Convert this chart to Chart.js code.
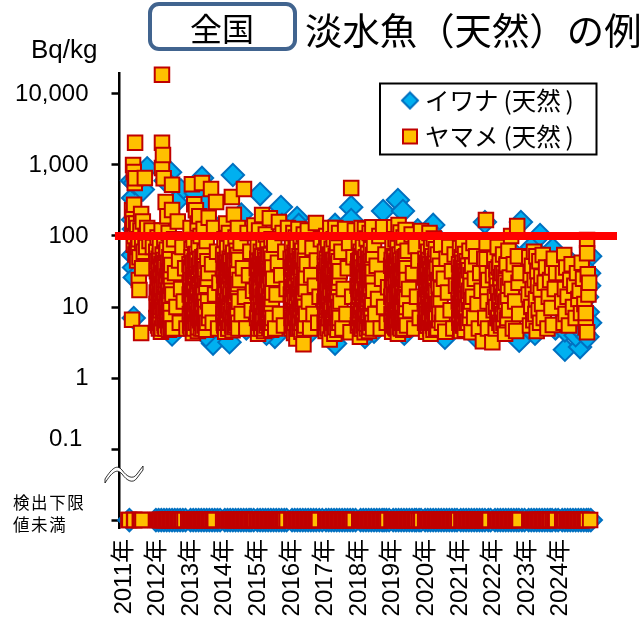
<!DOCTYPE html>
<html lang="ja"><head><meta charset="utf-8">
<script src="https://cdn.jsdelivr.net/npm/chart.js@4/dist/chart.umd.min.js"></script>
<style>
html,body{margin:0;padding:0;background:#fff}
#wrap{position:relative;width:644px;height:624px;overflow:hidden}
#wrap canvas{position:absolute;left:0;top:0}
.t{position:absolute;white-space:nowrap;color:#000;font-family:"Liberation Sans","Noto Sans CJK JP",sans-serif;line-height:1}
.j{font-family:"Noto Sans CJK JP",sans-serif}
#box{position:absolute;left:148px;top:2px;width:141px;height:41px;border:4px solid #41648f;border-radius:11px;background:#fff}
svg{position:absolute;left:0;top:0}
</style></head><body>
<div id="wrap">
<canvas id="c" width="644" height="624"></canvas>
<div id="box"></div>
<div class="t j" style="left:190px;top:11px;font-size:32px">全国</div>
<div class="t j" style="left:305px;top:11px;font-size:37.4px">淡水魚（天然）の例</div>
<div class="t" style="left:31px;top:36px;font-size:26px">Bq/kg</div>
<div class="t" style="left:49px;top:426px;font-size:24px">0.1</div>
<div class="t j" style="left:13px;top:494px;font-size:16.5px;letter-spacing:1.6px">検出下限</div>
<div class="t j" style="left:13px;top:516px;font-size:16.5px;letter-spacing:1.6px">値未満</div>
<svg width="644" height="624"><path d="M105 479C112 468 117 464 122 470C127 477 133 480 137 474L143 466L143 470L137 478C133 484 127 481 122 474C117 468 112 472 105 483Z" fill="#fff" stroke="#000" stroke-width="0.8"/></svg>
</div>
<script>
const yearTicks=[2011,2012,2013,2014,2015,2016,2017,2018,2019,2020,2021,2022,2023,2024];
const yTicks=[0.01,0.1,1,10,100,1000,10000];
const yLabels={10000:"10,000",1000:"1,000",100:"100",10:"10",1:"1"};
const limitValue=100;
const ndValue=0.01;
const limitLine=[[2010.79,limitValue],[2025.73,limitValue]];

const iwanaCloud=[[2011.33,343],[2011.30,600],[2011.33,170],[2011.35,125],[2011.38,557],[2011.33,54],[2011.36,36],[2011.38,26],[2011.35,7],[2011.75,900],[2011.62,450],[2012.43,790],[2012.30,600],[2012.75,440],[2012.60,300],[2012.49,4.1],[2012.8,20],
[2013.38,657],[2013.2,400],[2013.71,3.06],[2013.55,300],[2013.8,130],[2013.5,4],[2014.30,723],[2014.55,200],[2014.2,3.2],[2014.7,5],[2015.11,390],[2015.73,256],[2015.76,143],[2015.55,3.8],[2015.3,4.2],[2016.21,179],[2016.26,143],[2016.6,90],[2016.5,4],[2017.34,143],[2017.34,3.06],[2017.82,255],[2017.82,168],[2017.6,5],[2018.23,3.8],[2018.77,225],[2018.5,4.5],[2019.21,321],[2019.36,225],[2019.8,120],[2019.4,4.2],[2020.26,143],[2020.37,93],[2020.61,3.7],[2020.5,60],[2020.8,45],[2021.27,70],[2021.80,157],[2021.5,4],[2022.25,50],[2022.31,64],[2022.82,3.35],[2022.87,157],[2022.6,60],[2022.4,6],[2023.2,70],[2023.29,4.2],[2023.44,103],[2023.82,65],[2023.7,30],[2023.9,5],[2024.18,2.5],[2024.18,4.7],[2024.63,2.73],[2024.4,40],[2024.5,4],[2024.75,4.3],[2024.85,3.8],[2024.84,13.8],[2024.86,8.5],[2024.93,52],[2024.93,6],[2024.9,20],[2024.9,30]];

const iwanaND2011=[.22];
const iwanaND2012=[.01,.09,.17,.25,.33,.41,.49,.57,.65,.73,.81,.89];
const iwanaND2013=[.04,.12,.20,.28,.36,.44,.52,.60,.68,.76,.84,.92];
const iwanaND2014=[.06,.14,.22,.30,.38,.46,.54,.62,.70,.78,.84,.92];
const iwanaND2015=[.03,.11,.19,.27,.35,.43,.51,.59,.67,.75,.83,.90];
const iwanaND2016=[.06,.14,.22,.30,.38,.46,.54,.62,.70,.78,.87,.96];
const iwanaND2017=[.07,.15,.23,.31,.39,.47,.55,.63,.71,.79,.87,.95];
const iwanaND2018=[.10,.18,.26,.34,.42,.50,.58,.66,.74,.80,.87,.95];
const iwanaND2019=[.07,.15,.23,.31,.39,.47,.55,.63,.71,.76,.84,.90];
const iwanaND2020=[.02,.10,.18,.26,.34,.42,.50,.58,.66,.74,.82,.90,.97];
const iwanaND2021=[.08,.16,.24,.32,.40,.48,.56,.64,.72,.80,.90,.97];
const iwanaND2022=[.10,.18,.26,.34,.42,.50,.58,.66,.74,.81,.90,.98];
const iwanaND2023=[.10,.18,.26,.34,.42,.50,.58,.66,.74,.80,.90,.98];
const iwanaND2024=[.10,.18,.26,.34,.42,.50,.58,.66,.74,.82,.88,.95];

const yamameND2011=[.19,.22,.36,.37,.53,.57,.61];
const yamameND2012=[.01,.05,.09,.13,.17,.21,.25,.29,.33,.37,.41,.45,.49,.53,.57,.61,.65,.69,.73,.77,.81,.86,.97];
const yamameND2013=[.01,.05,.09,.13,.17,.21,.25,.29,.33,.37,.41,.45,.49,.53,.57,.61,.65,.69,.73,.76];
const yamameND2014=[.01,.05,.09,.13,.17,.21,.25,.29,.33,.37,.41,.45,.49,.53,.57,.61,.65,.69,.73,.77,.81,.85,.89,.93,.96];
const yamameND2015=[.01,.05,.09,.13,.17,.21,.25,.29,.33,.37,.41,.45,.49,.53,.57,.61,.65,.69,.73,.77,.81,.85,.90];
const yamameND2016=[.04,.08,.12,.16,.20,.24,.28,.32,.36,.40,.44,.48,.52,.56,.60,.64,.68,.72,.76,.80,.83,.86];
const yamameND2017=[.05,.09,.13,.17,.21,.25,.29,.33,.37,.41,.45,.49,.53,.57,.61,.65,.69,.73,.77,.81,.85,.90];
const yamameND2018=[.06,.10,.14,.18,.22,.26,.30,.34,.38,.42,.46,.50,.54,.58,.62,.66,.70,.74,.78,.82,.86,.90];
const yamameND2019=[.02,.06,.10,.14,.18,.22,.26,.30,.34,.38,.42,.46,.50,.54,.58,.62,.66,.70,.74,.78,.83,.88,.91];
const yamameND2020=[.02,.06,.10,.14,.18,.22,.26,.30,.34,.38,.42,.46,.50,.54,.58,.62,.66,.70,.74,.78,.82,.86,.90,.94,.98];
const yamameND2021=[.01,.10,.14,.18,.22,.26,.30,.34,.38,.42,.46,.50,.54,.58,.62,.66,.70,.74,.78,.82,.86,.90,.94];
const yamameND2022=[.11,.15,.19,.23,.27,.31,.35,.39,.43,.47,.51,.55,.59,.63,.67,.71,.75,.79,.83];
const yamameND2023=[.12,.16,.20,.24,.28,.32,.36,.40,.44,.48,.52,.56,.60,.64,.68,.72,.77,.83,.87,.92];
const yamameND2024=[.10,.14,.18,.23,.27,.31,.35,.39,.43,.47,.51,.55,.60,.64,.68,.72,.76,.80,.84,.93];

const ym2011=[[.33,1000],[.35,800],[.39,2050],[.38,557],[.40,650],[.36,275],[.30,230],[.32,180],[.34,150],[.31,120],[.37,100],[.42,150],[.45,130],[.50,90],[.57,204],[.62,160],[.68,656],[.55,120],[.60,80],[.48,70],[.43,60],[.35,75],[.40,55],[.52,50],[.60,35],[.45,45],[.50,24],[.52,17.4],[.30,6.6],[.57,4.3],[.65,60],[.70,100],[.72,70],[.75,130],[.82,85],[.88,120],[.92,70]];
const ym2012=[[.02,60],[.03,11],[.04,32],[.05,6],[.06,95],[.07,19],[.08,8],[.09,48],[.10,5],[.11,26],[.12,14],[.13,72],[.14,9],[.15,37],[.16,4.5],[.17,21],[.18,120],[.19,2050],[.19,910],[.19,18600],[.20,12],[.21,55],[.22,1380],[.22,7],[.23,28],[.24,650],[.25,16],[.26,85],[.27,5.5],[.28,42],[.29,10],[.30,300],[.31,24],[.32,6.5],[.33,64],[.34,13],[.35,190],[.36,33],[.37,8],[.38,17],[.39,110],[.40,4.8],[.41,50],[.42,11],[.43,27],[.44,75],[.45,7],[.46,20],[.47,39],[.49,233],[.49,525],[.50,15],[.52,5],[.55,90],[.58,30],[.62,10],[.66,160],[.70,45],[.72,6],[.76,18],[.80,70],[.84,12],[.88,35],[.92,5]];
const ym2012b=[[.025,7],[.035,16],[.045,44],[.055,9],[.065,25],[.075,5.5],[.085,13],[.095,34],[.105,8],[.115,20],[.125,52],[.135,6],[.145,15],[.155,28],[.165,10],[.175,40],[.185,5],[.195,18],[.205,30],[.215,7],[.225,12],[.235,46],[.245,9],[.255,24],[.265,6],[.275,14],[.285,36],[.295,5],[.305,19],[.315,58],[.325,11],[.335,27],[.345,7.5],[.355,16],[.365,42],[.375,5.5],[.385,10],[.395,23],[.405,32],[.415,6.5],[.425,14],[.435,48],[.445,9],[.455,29],[.465,5],[.475,17]];
const ym2013=[[.01,40],[.02,8],[.03,22],[.04,130],[.05,5],[.06,14],[.07,65],[.08,537],[.09,10],[.10,30],[.11,4.3],[.12,18],[.13,88],[.14,7],[.15,280],[.16,44],[.17,12],[.18,26],[.19,6],[.20,230],[.21,56],[.22,9],[.23,34],[.24,16],[.25,150],[.26,4.6],[.27,23],[.28,70],[.29,11],[.30,190],[.31,38],[.32,6.5],[.33,15],[.34,100],[.35,28],[.36,8],[.38,557],[.39,50],[.40,5],[.41,19],[.42,13],[.43,125],[.44,33],[.45,7],[.46,60],[.47,24],[.48,10],[.50,4.8],[.52,85],[.55,25],[.58,180],[.60,9],[.65,458],[.68,40],[.70,6],[.74,130],[.77,15],[.80,300],[.83,60],[.86,5],[.90,22]];
const ym2013b=[[.015,15],[.025,5.5],[.035,36],[.045,11],[.055,24],[.065,7],[.075,50],[.085,17],[.095,6],[.105,13],[.115,42],[.125,9],[.135,28],[.145,5],[.155,20],[.165,7.5],[.175,54],[.185,14],[.195,32],[.205,6],[.215,11],[.225,18],[.235,46],[.245,8],[.255,26],[.265,5.2],[.275,12],[.285,38],[.295,7],[.305,21],[.315,16],[.325,48],[.335,9.5],[.345,5],[.355,30],[.365,13],[.375,22],[.385,6],[.395,40],[.405,10],[.415,27],[.425,7],[.435,17],[.445,52],[.455,5.5],[.465,12],[.475,34],[.49,8],[.51,20],[.53,6],[.54,44],[.56,12],[.57,30],[.59,7]];
const ym2014=[[.01,55],[.02,13],[.03,6],[.04,28],[.05,90],[.06,17],[.07,4.5],[.08,42],[.09,9],[.10,150],[.11,24],[.12,7],[.13,68],[.14,12],[.15,36],[.16,5],[.17,20],[.18,110],[.19,10],[.20,48],[.21,6.5],[.22,27],[.23,15],[.24,76],[.25,8],[.27,355],[.28,32],[.29,4.7],[.30,18],[.31,58],[.32,11],[.33,200],[.34,26],[.35,7],[.36,40],[.37,14],[.38,95],[.39,5.5],[.40,21],[.41,62],[.42,9],[.43,30],[.44,16],[.45,130],[.46,6],[.47,46],[.48,12],[.50,24],[.53,80],[.56,8],[.60,35],[.63,458],[.66,14],[.70,5],[.74,110],[.78,28],[.82,60],[.86,9],[.90,17],[.94,140]];
const ym2014b=[[.015,8],[.025,34],[.035,14],[.045,5.5],[.055,22],[.065,46],[.075,10],[.085,19],[.095,6],[.105,31],[.115,12],[.125,52],[.135,7.5],[.145,25],[.155,16],[.165,5],[.175,40],[.185,9],[.195,28],[.205,14],[.215,6],[.225,44],[.235,18],[.245,8],[.255,33],[.265,11],[.275,5.5],[.285,24],[.295,50],[.305,7],[.315,15],[.325,35],[.335,10],[.345,5.2],[.355,22],[.365,45],[.375,8],[.385,13],[.395,28],[.405,6],[.415,38],[.425,17],[.435,9],[.445,54],[.455,21],[.465,5],[.475,12]];
const ym2015=[[.01,35],[.02,7],[.03,16],[.04,70],[.05,4.2],[.06,26],[.07,11],[.08,120],[.09,45],[.10,6],[.11,19],[.12,9],[.13,60],[.14,30],[.15,5],[.17,198],[.18,14],[.19,38],[.20,7.5],[.21,85],[.22,22],[.23,4.6],[.24,12],[.25,50],[.26,28],[.27,8],[.28,105],[.29,17],[.30,5.5],[.31,40],[.32,10],[.33,66],[.35,24],[.36,6],[.37,32],[.38,14],[.40,178],[.41,9],[.42,54],[.43,20],[.44,4.8],[.45,90],[.46,13],[.47,36],[.48,7],[.50,25],[.53,75],[.56,5],[.60,15],[.64,42],[.67,158],[.70,8],[.74,28],[.78,110],[.82,5.5],[.86,60],[.90,18],[.94,130]];
const ym2015b=[[.015,20],[.025,48],[.035,8],[.045,30],[.055,12],[.065,5],[.075,38],[.085,16],[.095,24],[.105,7],[.115,44],[.125,11],[.135,18],[.145,5.5],[.155,33],[.165,9],[.175,52],[.185,26],[.195,6],[.205,15],[.215,40],[.225,10],[.235,30],[.245,5],[.255,20],[.265,13],[.275,46],[.285,7],[.295,35],[.305,17],[.315,25],[.325,6],[.335,12],[.345,42],[.355,9],[.365,19],[.375,55],[.385,5.2],[.395,28],[.405,14],[.415,34],[.425,8],[.435,22],[.445,11],[.455,48],[.465,6],[.475,16]];
const ym2016=[[.02,48],[.03,9],[.04,22],[.05,5],[.06,80],[.07,14],[.08,34],[.09,6.5],[.10,110],[.11,18],[.12,4.3],[.13,58],[.14,11],[.15,27],[.16,7],[.17,95],[.18,40],[.19,3.6],[.20,16],[.21,70],[.22,8.5],[.23,30],[.24,5],[.25,125],[.26,20],[.27,12],[.28,52],[.29,6],[.30,36],[.31,9.5],[.32,85],[.33,24],[.34,4.5],[.35,15],[.36,62],[.37,7.5],[.38,44],[.39,13],[.40,3],[.41,105],[.42,26],[.43,10],[.44,33],[.45,5.5],[.46,72],[.47,18],[.48,8],[.50,40],[.53,120],[.56,12],[.60,5],[.63,28],[.67,68],[.70,8],[.74,20],[.77,152],[.80,45],[.84,6],[.88,14],[.92,90]];
const ym2016b=[[.025,15],[.035,36],[.045,7],[.055,27],[.065,12],[.075,50],[.085,5.5],[.095,19],[.105,9],[.115,42],[.125,24],[.135,6],[.145,14],[.155,34],[.165,8],[.175,20],[.185,55],[.195,10],[.205,5],[.215,30],[.225,16],[.235,44],[.245,7],[.255,23],[.265,12],[.275,38],[.285,5.2],[.295,18],[.305,9],[.315,48],[.325,28],[.335,14],[.345,6],[.355,36],[.365,11],[.375,21],[.385,52],[.395,7],[.405,16],[.415,5],[.425,32],[.435,10],[.445,45],[.455,19],[.465,8],[.475,26]];
const ym2017=[[.02,30],[.03,6],[.04,60],[.05,14],[.06,4.6],[.07,24],[.08,100],[.09,9],[.10,42],[.11,17],[.12,5.2],[.13,75],[.14,12],[.15,28],[.16,7],[.17,55],[.18,3.5],[.19,19],[.20,130],[.21,36],[.22,8],[.23,11],[.24,66],[.25,5],[.26,25],[.27,46],[.28,15],[.29,6.5],[.30,90],[.31,21],[.32,4.2],[.33,34],[.34,10],[.35,130],[.36,52],[.37,7],[.38,16],[.39,28],[.40,80],[.41,4.8],[.42,13],[.43,40],[.44,9],[.45,22],[.46,110],[.47,6],[.48,32],[.50,12],[.53,60],[.56,5],[.60,18],[.64,125],[.68,8],[.72,35],[.76,80],[.80,4.4],[.82,474],[.85,14],[.89,50],[.93,120]];
const ym2017b=[[.025,12],[.035,40],[.045,8],[.055,20],[.065,33],[.075,6],[.085,15],[.095,48],[.105,10],[.115,26],[.125,5],[.135,18],[.145,38],[.155,7],[.165,13],[.175,30],[.185,9],[.195,52],[.205,16],[.215,5.5],[.225,23],[.235,42],[.245,11],[.255,7],[.265,35],[.275,19],[.285,6],[.295,14],[.305,46],[.315,9],[.325,27],[.335,16],[.345,5.2],[.355,38],[.365,12],[.375,22],[.385,8],[.395,54],[.405,15],[.415,31],[.425,6],[.435,19],[.445,44],[.455,10],[.465,26],[.475,7]];
const ym2018=[[.01,20],[.02,5.5],[.03,44],[.04,12],[.05,85],[.06,7],[.07,28],[.08,3.8],[.09,16],[.10,60],[.11,9],[.12,36],[.13,130],[.14,5],[.15,22],[.16,13],[.17,70],[.18,6.5],[.19,30],[.20,10],[.21,48],[.22,4.4],[.23,125],[.24,18],[.25,8],[.26,40],[.27,14],[.28,92],[.29,5.8],[.30,26],[.31,11],[.32,56],[.33,7.5],[.34,34],[.35,4.6],[.36,20],[.37,110],[.38,15],[.39,42],[.40,9],[.41,65],[.42,6],[.43,24],[.44,12],[.45,133],[.46,31],[.47,5],[.48,17],[.50,75],[.54,8],[.58,38],[.62,13],[.66,100],[.70,5],[.74,25],[.77,133],[.80,10],[.84,55],[.88,6],[.92,19]];
const ym2018b=[[.015,34],[.025,9],[.035,18],[.045,6],[.055,30],[.065,14],[.075,46],[.085,8],[.095,24],[.105,5],[.115,17],[.125,52],[.135,10],[.145,36],[.155,7],[.165,20],[.175,28],[.185,5.5],[.195,14],[.205,42],[.215,9],[.225,26],[.235,6],[.245,16],[.255,50],[.265,11],[.275,32],[.285,5],[.295,19],[.305,8],[.315,38],[.325,13],[.335,24],[.345,7],[.355,48],[.365,15],[.375,5.2],[.385,28],[.395,10],[.405,18],[.415,44],[.425,7],[.435,34],[.445,12],[.455,6],[.465,22],[.475,54]];
const ym2019=[[.01,38],[.02,8],[.03,18],[.04,4.5],[.05,78],[.06,27],[.07,11],[.08,52],[.09,6],[.10,133],[.11,15],[.12,33],[.13,5.2],[.14,90],[.15,21],[.16,9],[.17,44],[.18,7],[.19,13],[.20,68],[.21,4.2],[.22,29],[.23,143],[.24,17],[.25,6.5],[.26,55],[.27,10],[.28,36],[.29,112],[.30,5],[.31,24],[.32,12],[.33,75],[.34,8],[.35,40],[.36,16],[.37,4.8],[.38,95],[.39,28],[.40,7],[.41,50],[.42,14],[.43,6],[.44,121],[.45,22],[.46,10],[.47,35],[.48,5.5],[.50,62],[.54,18],[.58,9],[.62,105],[.66,30],[.70,5],[.74,72],[.78,14],[.82,45],[.86,7],[.90,118]];
const ym2019b=[[.015,14],[.025,46],[.035,6],[.045,24],[.055,10],[.065,36],[.075,5.5],[.085,19],[.095,30],[.105,8],[.115,50],[.125,13],[.135,6.5],[.145,26],[.155,42],[.165,5],[.175,16],[.185,33],[.195,9],[.205,22],[.215,54],[.225,7],[.235,12],[.245,38],[.255,18],[.265,5.2],[.275,28],[.285,10],[.295,45],[.305,7.5],[.315,15],[.325,32],[.335,6],[.345,21],[.355,11],[.365,48],[.375,25],[.385,5],[.395,14],[.405,36],[.415,9],[.425,19],[.435,30],[.445,6.5],[.455,52],[.465,13],[.475,24]];
const ym2020=[[.01,26],[.02,6],[.03,48],[.04,12],[.05,4.5],[.06,85],[.07,18],[.08,8],[.09,33],[.10,5.5],[.11,60],[.12,14],[.13,24],[.14,7],[.15,110],[.16,40],[.17,10],[.18,4.2],[.19,20],[.20,70],[.21,28],[.22,6],[.23,15],[.24,52],[.25,9],[.26,36],[.27,4.8],[.28,92],[.29,22],[.30,12],[.31,44],[.32,7],[.33,17],[.34,65],[.35,5],[.36,30],[.38,11],[.40,55],[.42,20],[.44,6.5],[.46,38],[.48,13],[.50,75],[.54,8],[.58,25],[.62,4.5],[.66,48],[.70,16],[.74,70],[.78,9],[.82,32],[.86,5],[.90,55],[.94,20]];
const ym2020b=[[.015,13],[.025,32],[.035,7],[.045,20],[.055,42],[.065,9],[.075,5.5],[.085,26],[.095,15],[.105,38],[.115,6],[.125,11],[.135,46],[.145,19],[.155,8],[.165,28],[.175,5],[.185,14],[.195,34],[.205,10],[.215,50],[.225,7],[.235,23],[.245,13],[.255,5.5],[.265,40],[.275,17],[.285,9],[.295,30],[.305,6],[.315,22],[.325,48],[.335,11],[.345,16],[.355,7],[.37,36],[.39,5],[.41,24],[.43,12],[.45,8],[.47,30],[.49,18],[.52,6]];
const ym2021=[[.02,12],[.03,40],[.04,6],[.05,22],[.06,68],[.07,9],[.08,30],[.09,4.6],[.10,16],[.11,50],[.12,11],[.13,25],[.14,5.5],[.15,75],[.16,18],[.17,8],[.18,35],[.19,13],[.20,4.8],[.21,56],[.22,21],[.23,7],[.24,28],[.25,10],[.26,44],[.28,15],[.30,6],[.32,33],[.34,62],[.36,9],[.38,20],[.40,4.4],[.42,38],[.44,14],[.46,80],[.48,7],[.50,25],[.54,52],[.58,11],[.62,5],[.66,30],[.70,17],[.74,3.3],[.78,48],[.81,7],[.83,168],[.85,80],[.85,47],[.86,30],[.87,18],[.88,12],[.89,5],[.90,24]];
const ym2021b=[[.025,18],[.035,7],[.045,30],[.055,11],[.065,5],[.075,20],[.085,14],[.095,36],[.105,8],[.115,24],[.125,6],[.135,16],[.145,42],[.155,10],[.165,28],[.175,5.5],[.185,19],[.195,9],[.21,32],[.23,13],[.25,6],[.27,24],[.29,38],[.31,11],[.33,17],[.35,7],[.37,28],[.39,12]];
const ym2022=[[.02,3.2],[.04,28],[.06,9],[.08,48],[.10,14],[.12,5],[.14,34],[.16,20],[.18,70],[.20,7],[.22,12],[.24,42],[.26,25],[.28,5.5],[.30,16],[.32,8],[.34,55],[.36,30],[.38,11],[.40,4.2],[.42,22],[.44,38],[.46,6.5],[.48,14],[.50,62],[.52,9],[.54,26],[.58,100],[.60,18],[.63,5],[.66,40],[.70,12],[.73,4.6],[.76,138],[.78,52],[.80,22],[.82,8],[.84,30]];
const ym2022b=[[.13,10],[.15,24],[.17,7],[.19,16],[.21,36],[.23,6],[.25,12],[.27,20],[.29,9],[.31,30],[.33,14],[.35,6],[.37,18],[.39,8],[.41,26],[.43,12],[.45,40],[.47,7],[.49,20]];
const ym2023=[[.10,15],[.12,50],[.14,5.5],[.16,28],[.18,10],[.20,38],[.22,18],[.24,6.5],[.26,60],[.28,24],[.30,8],[.32,13],[.33,52],[.34,4.6],[.36,32],[.38,20],[.40,9],[.42,44],[.44,6],[.46,16],[.48,27],[.50,11],[.52,54],[.55,7],[.58,22],[.62,36],[.66,5],[.70,14],[.74,24],[.78,9.7],[.80,36],[.82,5.6],[.85,48],[.88,18],[.92,30]];
const ym2024=[[.10,12],[.12,30],[.14,6],[.16,54],[.18,18],[.20,8],[.22,36],[.26,14],[.30,5.5],[.34,24],[.38,40],[.42,10],[.46,20],[.50,7],[.54,30],[.58,13],[.62,17],[.66,8.2],[.68,42],[.72,25],[.76,11],[.80,5.2],[.80,8.2],[.84,88],[.84,57],[.86,29],[.88,15],[.90,22],[.84,4.4]];

const pts=(rows)=>rows.map(([x,y])=>({x,y}));
const yr=(y,rows)=>rows.map(([f,v])=>({x:y+f,y:v}));
const nd=(y,list)=>list.map(f=>({x:y+f,y:ndValue}));
const byDate=(a,b)=>a.x-b.x;
const iwanaData=[...pts(iwanaCloud),...nd(2011,iwanaND2011),...nd(2012,iwanaND2012),...nd(2013,iwanaND2013),...nd(2014,iwanaND2014),...nd(2015,iwanaND2015),...nd(2016,iwanaND2016),...nd(2017,iwanaND2017),...nd(2018,iwanaND2018),...nd(2019,iwanaND2019),...nd(2020,iwanaND2020),...nd(2021,iwanaND2021),...nd(2022,iwanaND2022),...nd(2023,iwanaND2023),...nd(2024,iwanaND2024)];
const yamameData=[...yr(2011,ym2011),...yr(2012,ym2012),...yr(2012,ym2012b),...yr(2013,ym2013),...yr(2013,ym2013b),...yr(2014,ym2014),...yr(2014,ym2014b),...yr(2015,ym2015),...yr(2015,ym2015b),...yr(2016,ym2016),...yr(2016,ym2016b),...yr(2017,ym2017),...yr(2017,ym2017b),...yr(2018,ym2018),...yr(2018,ym2018b),...yr(2019,ym2019),...yr(2019,ym2019b),...yr(2020,ym2020),...yr(2020,ym2020b),...yr(2021,ym2021),...yr(2021,ym2021b),...yr(2022,ym2022),...yr(2022,ym2022b),...yr(2023,ym2023),...yr(2024,ym2024),
...nd(2011,yamameND2011),...nd(2012,yamameND2012),...nd(2013,yamameND2013),...nd(2014,yamameND2014),...nd(2015,yamameND2015),...nd(2016,yamameND2016),...nd(2017,yamameND2017),...nd(2018,yamameND2018),...nd(2019,yamameND2019),...nd(2020,yamameND2020),...nd(2021,yamameND2021),...nd(2022,yamameND2022),...nd(2023,yamameND2023),...nd(2024,yamameND2024)].sort(byDate);

const FONT='"Liberation Sans","Noto Sans CJK JP",sans-serif';
function marker(style,fill,stroke){
 const m=document.createElement('canvas');m.width=20;m.height=20;
 const g=m.getContext('2d');g.fillStyle=fill;g.strokeStyle=stroke;g.lineWidth=2;g.beginPath();
 if(style==='rect'){g.rect(3,3,14,14);}else{g.moveTo(10,2);g.lineTo(18,10);g.lineTo(10,18);g.lineTo(2,10);g.closePath();}
 g.fill();g.stroke();return m;
}
const legendMarkers=[marker('diamond','#00B0F0','#0070C0'),marker('rect','#FFC000','#C00000')];
const placeLegend={id:'placeLegend',
 afterLayout(ch){const l=ch.legend;l.left=395.75;l.right=597;l.top=76.7;l.bottom=400;},
 beforeDraw(ch){const c=ch.ctx;c.save();c.fillStyle='#fff';c.strokeStyle='#000';c.lineWidth=2;c.fillRect(380,83.5,216.5,71);c.strokeRect(380,83.5,216.5,71);c.restore();}};
new Chart(document.getElementById('c'),{
 type:'scatter',
 data:{datasets:[
  {label:'イワナ\u2009(天然\u2009)',data:iwanaData,order:2,clip:false,pointStyle:'rectRot',pointRadius:11.2,pointHoverRadius:11.2,backgroundColor:'#00B0F0',borderColor:'#0070C0',pointBorderWidth:2,borderWidth:2},
  {label:'ヤマメ\u2009(天然\u2009)',data:yamameData,order:1,clip:false,pointStyle:'rect',pointRadius:10.25,pointHoverRadius:10.25,backgroundColor:'#FFC000',borderColor:'#C00000',pointBorderWidth:2,borderWidth:2},
  {label:'基準値',data:pts(limitLine),order:0,clip:false,showLine:true,pointRadius:0,borderColor:'#FF0000',borderWidth:8,backgroundColor:'#FF0000'}
 ]},
 options:{responsive:false,animation:false,devicePixelRatio:1,
  layout:{padding:{left:0,right:27,top:73,bottom:0}},
  events:[],
  plugins:{tooltip:{enabled:false},title:{display:false},
   legend:{position:'chartArea',align:'start',reverse:true,
    labels:{usePointStyle:true,boxHeight:14,boxWidth:5.5,padding:11.5,color:'#000',font:{family:'"Noto Sans CJK JP",sans-serif',size:24.5},filter:i=>i.datasetIndex!==2,
     generateLabels(ch){const items=Chart.defaults.plugins.legend.labels.generateLabels(ch);items.forEach(i=>{if(i.datasetIndex<2)i.pointStyle=legendMarkers[i.datasetIndex];});return items;}}}},
  scales:{
   x:{type:'linear',min:2010.926,max:2025.73,
    afterFit(s){s.height=96;},
    afterBuildTicks(s){s.ticks=yearTicks.map(v=>({value:v}));},
    grid:{display:false},border:{display:false},
    ticks:{autoSkip:false,minRotation:90,maxRotation:90,padding:3,labelOffset:2,color:'#000',font:{family:FONT,size:24},callback:v=>v+'年'}},
   y:{type:'logarithmic',min:0.00772,max:19750,
    afterFit(s){s.width=119.5;},
    afterBuildTicks(s){s.ticks=yTicks.map(v=>({value:v,major:true}));},
    grid:{display:true,drawOnChartArea:false,drawTicks:true,tickLength:8,tickColor:'#000',tickWidth:2.5},
    border:{display:true,color:'#000',width:2.5},
    ticks:{autoSkip:false,padding:23,color:'#000',font:{family:FONT,size:24},callback:v=>yLabels[v]||''}}
  }
 },
 plugins:[placeLegend]
});
</script>
</body></html>
